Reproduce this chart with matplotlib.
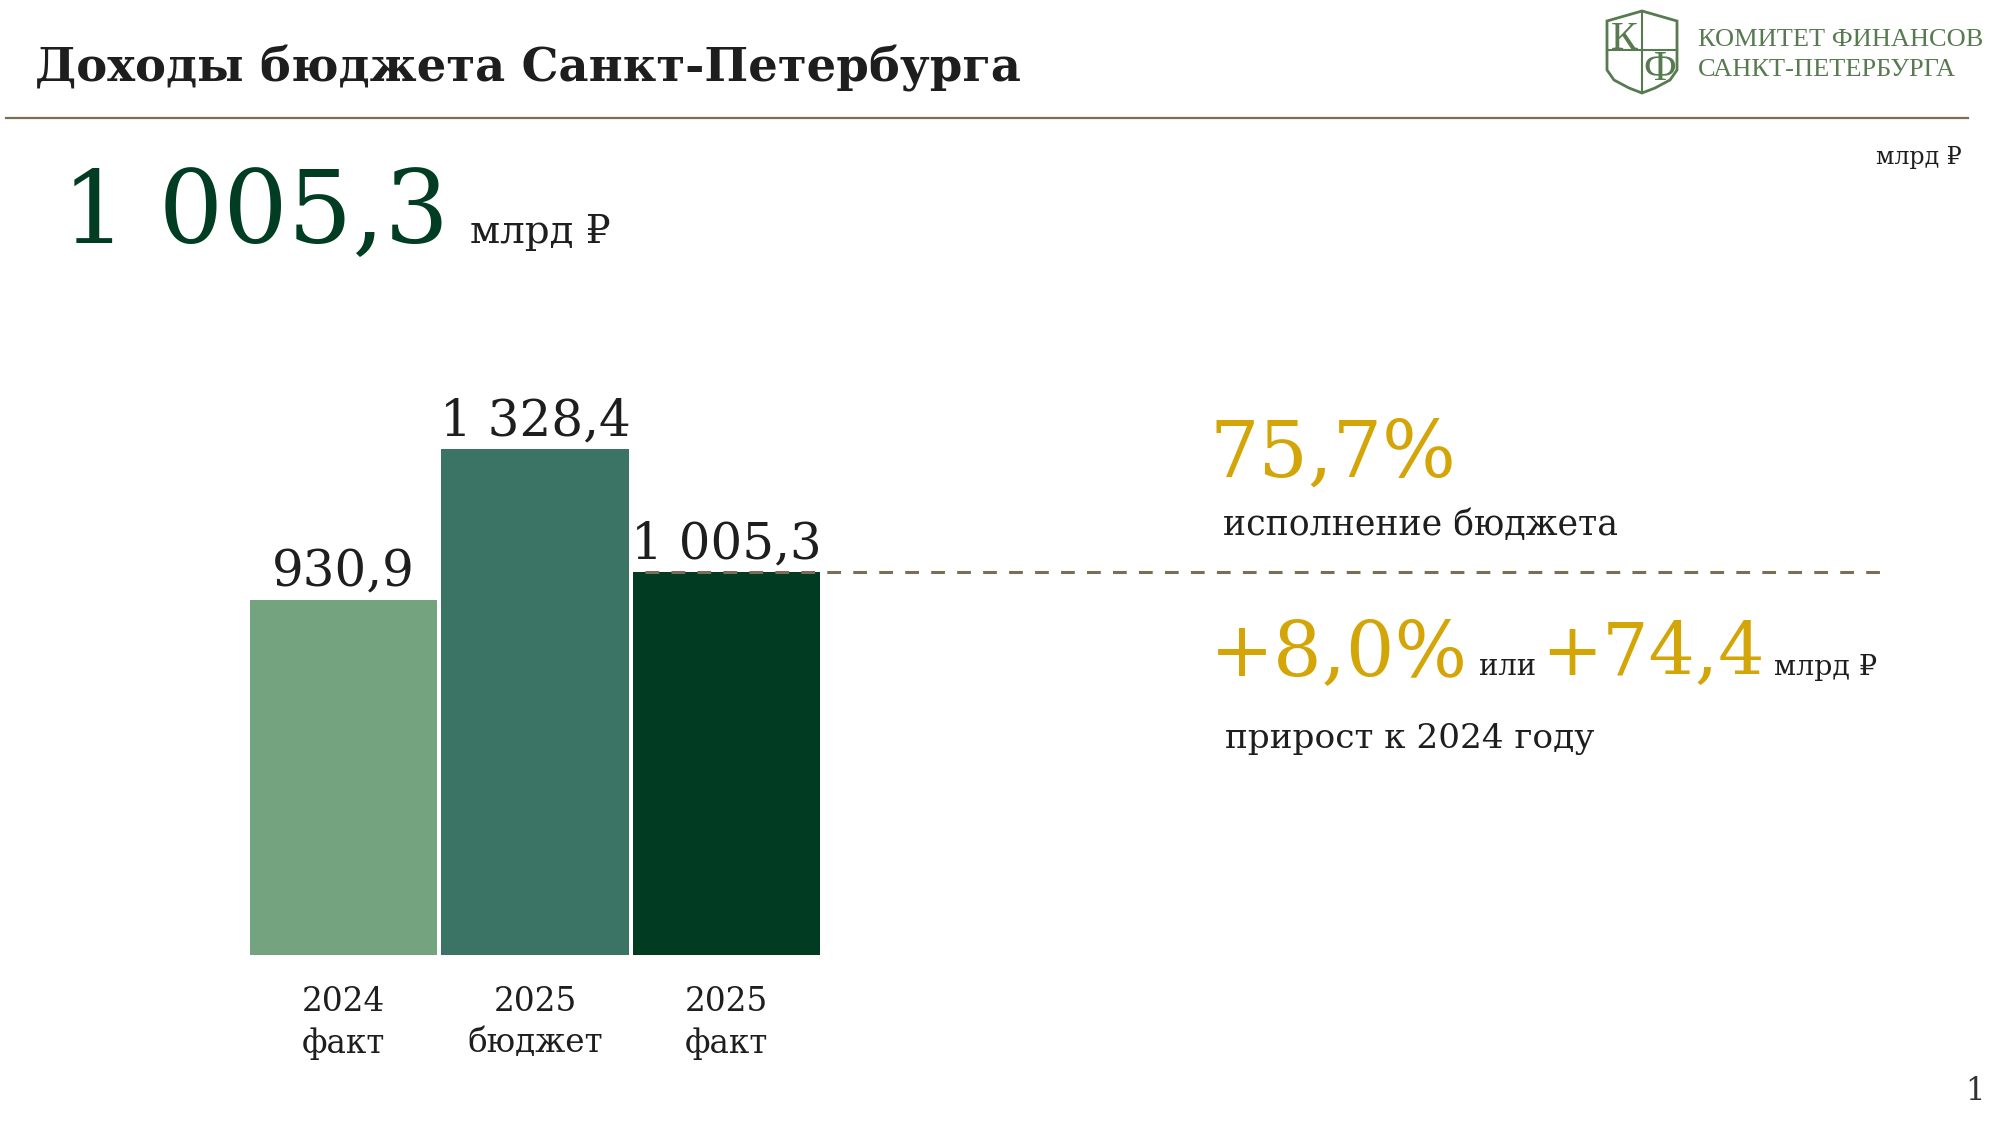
import matplotlib
matplotlib.use("Agg")
import matplotlib.pyplot as plt
from matplotlib.transforms import blended_transform_factory
from matplotlib.patches import Polygon

# ---------------- data ----------------
categories = ["2024\nфакт", "2025\nбюджет", "2025\nфакт"]
values = [930.9, 1328.4, 1005.3]
value_labels = ["930,9", "1 328,4", "1 005,3"]
bar_colors = ["#74a47f", "#3b7465", "#003b22"]

title = "Доходы бюджета Санкт-Петербурга"
headline_value = "1 005,3"
unit = "млрд ₽"
execution_pct = "75,7%"
execution_text = "исполнение бюджета"
growth_pct = "+8,0%"
growth_abs = "+74,4"
growth_text = "прирост к 2024 году"
org_lines = ["КОМИТЕТ ФИНАНСОВ", "САНКТ-ПЕТЕРБУРГА"]
page_no = "1"

SERIF = ["DejaVu Serif", "DejaVu Sans"]
TIMES = ["Liberation Serif", "DejaVu Serif"]
DARK = "#1e1e1e"
GOLD = "#d4a507"
GREEN_BIG = "#003d22"
LOGO = "#587a50"
RULE = "#7a6e58"

W, H = 2000, 1125
fig = plt.figure(figsize=(W / 100, H / 100), dpi=100)
fig.patch.set_facecolor("white")

# ---------------- bar chart ----------------
ax_left, ax_bottom_px = 248, 955
ax_w = 574
ylim_top = 1400
ax_h = ylim_top * 0.381
ax = fig.add_axes([ax_left / W, 1 - ax_bottom_px / H, ax_w / W, ax_h / H])
x = range(len(values))
ax.bar(x, values, width=0.979, color=bar_colors)
ax.set_xlim(-0.5, 2.5)
ax.set_ylim(0, ylim_top)
for s in ax.spines.values():
    s.set_visible(False)
ax.set_yticks([])
ax.set_xticks(list(x))
ax.set_xticklabels(categories, fontsize=23.5, family=SERIF, color=DARK,
                   linespacing=1.38)
ax.tick_params(axis="x", length=0, pad=22)
for xi, v, lab in zip(x, values, value_labels):
    ax.annotate(lab, (xi, v), xytext=(0, 10), textcoords="offset points",
                ha="center", va="baseline", fontsize=36, family=SERIF, color=DARK)

# dashed reference line at the 2025 actual value
tr = blended_transform_factory(fig.transFigure, ax.transData)
ax.plot([645 / W, 1888 / W], [values[2], values[2]], transform=tr,
        color=RULE, lw=2.2, ls=(0, (4.5, 4)), clip_on=False)

# ---------------- overlay (text, rule, logo) ----------------
ov = fig.add_axes([0, 0, 1, 1], zorder=-1)
ov.set_xlim(0, W)
ov.set_ylim(H, 0)
ov.axis("off")


def T(xp, yp, s, **kw):
    kw.setdefault("family", SERIF)
    kw.setdefault("color", DARK)
    kw.setdefault("va", "baseline")
    return ov.text(xp, yp, s, **kw)


T(35, 81, title, fontsize=33.5, fontweight="bold")
ov.plot([6, 1968], [118, 118], color=RULE, lw=1.6)

T(62, 243, headline_value, fontsize=73, color=GREEN_BIG)
T(470, 243, unit, fontsize=28)
T(1962, 164, unit, fontsize=17, ha="right")

T(1210, 477, execution_pct, fontsize=56, color=GOLD)
T(1223, 535, execution_text, fontsize=25)
T(1210, 675, growth_pct, fontsize=55, color=GOLD)
T(1479, 675, "или", fontsize=21)
T(1541, 675, growth_abs, fontsize=52.5, color=GOLD)
T(1774, 675, unit, fontsize=20.5)
T(1225, 748, growth_text, fontsize=24.7)
T(1985, 1100, page_no, fontsize=22, ha="right", color="#333333")

# logo: shield
shield = [(1607, 21), (1642, 11), (1677, 21), (1677, 70), (1670, 80),
          (1655, 88), (1642, 93), (1629, 88), (1614, 80), (1607, 70)]
ov.add_patch(Polygon(shield, closed=True, fill=False, edgecolor=LOGO, lw=2))
ov.plot([1642, 1642], [11, 93], color=LOGO, lw=1.5)
ov.plot([1607, 1677], [50, 50], color=LOGO, lw=1.5)
T(1624, 49, "К", fontsize=29, family=TIMES, color=LOGO, ha="center")
T(1660, 80, "Ф", fontsize=30, family=TIMES, color=LOGO, ha="center")
T(1698, 46, org_lines[0], fontsize=19, family=TIMES, color=LOGO)
T(1698, 76, org_lines[1], fontsize=19, family=TIMES, color=LOGO)

fig.savefig("out.png", dpi=100, facecolor="white")
